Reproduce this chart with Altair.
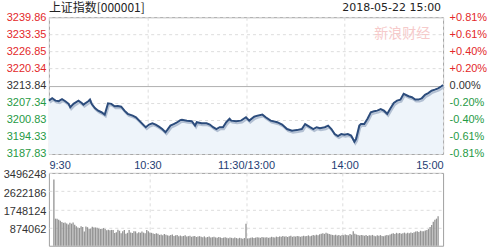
import altair as alt
import pandas as pd

# ---------------- data ----------------
title_text = "上证指数[000001]"
date_text = "2018-05-22 15:00"
watermark_text = "新浪财经"

# intraday price (minute offset from 9:30, trading minutes; 120 = 11:30/13:00)
price_minutes = [0, 2, 4, 6, 8, 10, 12, 13, 15, 18, 20, 21, 24, 25, 26, 28, 30, 32, 34, 35,
                 36, 38, 40, 42, 44, 46, 48, 51, 53, 55, 58, 59, 61, 63, 65, 67, 69, 71, 72, 74,
                 76, 78, 80, 81, 84, 87, 89, 90, 93, 96, 98, 100, 102, 104, 106, 108, 110, 111, 114, 117,
                 120, 122, 125, 127, 130, 132, 135, 139, 142, 145, 148, 151, 154, 156, 159, 161, 163, 165, 168, 170,
                 172, 174, 176, 178, 180, 182, 184, 186, 187, 189, 190, 192, 194, 196, 198, 200, 202, 204, 206, 208,
                 210, 212, 214, 216, 219, 221, 223, 225, 227, 229, 231, 233, 235, 237, 239, 240]
prices = [3208.1, 3209.0, 3208.1, 3207.9, 3208.7, 3207.9, 3206.9, 3205.6, 3206.9, 3208.1,
          3207.2, 3206.6, 3207.9, 3208.5, 3206.9, 3205.3, 3204.3, 3203.7, 3202.8, 3204.9,
          3207.1, 3206.9, 3206.0, 3206.1, 3205.8, 3204.3, 3203.1, 3202.4, 3201.8, 3200.5,
          3198.6, 3198.0, 3199.0, 3199.5, 3199.0, 3198.2, 3197.3, 3196.1, 3196.9, 3198.6,
          3199.2, 3199.8, 3200.7, 3200.8, 3200.5, 3200.3, 3198.6, 3199.9, 3199.5, 3199.5,
          3199.0, 3198.0, 3197.3, 3198.0, 3198.0, 3199.9, 3201.2, 3200.5, 3200.3, 3200.5,
          3201.8, 3200.5, 3202.0, 3202.4, 3202.8, 3201.8, 3200.5, 3199.9, 3199.0, 3197.3,
          3196.7, 3196.9, 3197.3, 3199.2, 3198.0, 3197.3, 3198.0, 3197.6, 3198.0, 3198.6,
          3197.3, 3195.4, 3194.6, 3195.4, 3195.1, 3195.4, 3194.8, 3192.5, 3193.5, 3198.6,
          3199.2, 3199.2, 3201.2, 3203.7, 3204.1, 3204.3, 3204.9, 3204.3, 3203.1, 3205.2,
          3207.2, 3208.1, 3208.5, 3210.7, 3209.8, 3209.4, 3208.5, 3208.5, 3209.0, 3210.3,
          3211.0, 3211.9, 3212.3, 3212.8, 3213.6, 3214.1]

# per-minute volume, minute 0 .. 240
volumes = [3180000,
           1300000, 1290000, 1250000, 1200000, 1140000, 1100000, 1110000, 1070000, 1020000, 1100000,
           1060000, 1120000, 1010000, 940000, 870000, 850000, 930000, 900000, 680000, 920000,
           890000, 820000, 830000, 910000, 880000, 880000, 860000, 830000, 800000, 820000,
           850000, 800000, 740000, 770000, 740000, 760000, 760000, 610000, 650000, 770000,
           720000, 600000, 700000, 760000, 580000, 620000, 750000, 640000, 610000, 700000,
           690000, 600000, 650000, 620000, 680000, 630000, 600000, 750000, 700000, 640000,
           620000, 590000, 560000, 600000, 580000, 520000, 540000, 500000, 560000, 530000,
           500000, 480000, 520000, 540000, 470000, 500000, 520000, 460000, 490000, 450000,
           470000, 500000, 440000, 460000, 480000, 430000, 450000, 470000, 420000, 440000,
           460000, 430000, 410000, 450000, 400000, 420000, 440000, 390000, 410000, 430000,
           400000, 380000, 420000, 400000, 370000, 390000, 410000, 380000, 360000, 400000,
           380000, 360000, 390000, 370000, 350000, 380000, 360000, 340000, 370000, 1060000,
           350000, 360000, 380000, 400000, 370000, 390000, 410000, 400000, 380000, 420000,
           400000, 390000, 410000, 380000, 400000, 430000, 410000, 390000, 440000, 420000,
           450000, 430000, 470000, 440000, 460000, 420000, 450000, 480000, 430000, 460000,
           440000, 470000, 450000, 430000, 460000, 480000, 450000, 470000, 500000, 460000,
           480000, 510000, 490000, 530000, 500000, 550000, 580000, 600000, 570000, 620000,
           590000, 560000, 540000, 520000, 500000, 530000, 490000, 510000, 480000, 520000,
           500000, 540000, 520000, 500000, 560000, 530000, 700000, 580000, 540000, 510000,
           490000, 520000, 500000, 480000, 510000, 470000, 500000, 490000, 520000, 480000,
           460000, 500000, 480000, 510000, 470000, 450000, 490000, 520000, 500000, 540000,
           580000, 600000, 560000, 620000, 590000, 610000, 570000, 600000, 630000, 590000,
           620000, 600000, 640000, 610000, 650000, 680000, 700000, 660000, 720000, 690000,
           700000, 730000, 760000, 800000, 900000, 1000000, 1150000, 1250000, 1300000, 1420000]
volume_minutes = list(range(len(volumes)))

price_ticks = [3187.83, 3194.33, 3200.83, 3207.34, 3213.84, 3220.34, 3226.85, 3233.35, 3239.86]
pct_labels = ["-0.81%", "-0.61%", "-0.40%", "-0.20%", "0.00%", "+0.20%", "+0.40%", "+0.61%", "+0.81%"]
prev_close = 3213.84
vol_ticks = [874062, 1748124, 2622186, 3496248]
time_ticks = [0, 60, 120, 180, 240]
time_labels = ["9:30", "10:30", "11:30/13:00", "14:00", "15:00"]

# ---------------- styling ----------------
FONT = "Liberation Sans"
RED, GREEN, DARK = "#e3282a", "#1f9a45", "#333333"
W, H1, H2 = 395, 137, 73

price_df = pd.DataFrame({"m": price_minutes, "p": prices})
vol_df = pd.DataFrame({"m": volume_minutes, "v": volumes})

xscale = alt.Scale(domain=[time_ticks[0], time_ticks[-1]], nice=False, zero=False)
yscale = alt.Scale(domain=[price_ticks[0], price_ticks[-1]], nice=False, zero=False)

time_expr = "{" + ",".join(f"'{t}':'{l}'" for t, l in zip(time_ticks, time_labels)) + "}[datum.value]"
pct_expr = ("[" + ",".join(f"'{l}'" for l in pct_labels) + "][indexof(["
            + ",".join(str(v) for v in price_ticks) + "], datum.value)]")

grid_x = dict(grid=True, gridColor="#dddddd", gridDash=[3, 3], gridWidth=1)
label_color = {"condition": [{"test": f"datum.value > {prev_close} + 0.01", "value": RED},
                             {"test": f"datum.value < {prev_close} - 0.01", "value": GREEN}],
               "value": DARK}

x_price = alt.X("m:Q", scale=xscale, axis=alt.Axis(
    values=time_ticks, labelExpr=time_expr, labelFlush=True, title=None, ticks=False,
    domain=False, labelPadding=6, labelFont=FONT, labelFontSize=11, labelColor="#1f3d73",
    **grid_x))

y_left = alt.Y("p:Q", scale=yscale, axis=alt.Axis(
    values=price_ticks, format=".2f", title=None, ticks=False, domain=False,
    labelPadding=3, labelFont=FONT, labelFontSize=11, labelColor=label_color,
    grid=True,
    gridColor={"condition": {"test": f"abs(datum.value - {prev_close}) < 0.01", "value": "#b0b0b0"},
               "value": "#dddddd"},
    gridDash={"condition": {"test": f"abs(datum.value - {prev_close}) < 0.01", "value": []},
              "value": [3, 3]}))

base = alt.Chart(price_df)

area = base.mark_area(color="#eef4fa").encode(x=x_price, y=y_left, y2=alt.datum(price_ticks[0]))
shadow = base.mark_line(color="#b3c0d3", strokeWidth=2, xOffset=1, yOffset=2).encode(
    x=x_price, y=y_left)
line = base.mark_line(color="#2c4c7c", strokeWidth=2).encode(x=x_price, y=y_left)

left_group = alt.layer(area, shadow, line)

right = base.mark_line(strokeOpacity=0).encode(
    x=x_price,
    y=alt.Y("p:Q", scale=yscale, axis=alt.Axis(
        orient="right", values=price_ticks, labelExpr=pct_expr, title=None, ticks=False,
        domain=False, grid=False, labelPadding=6, labelFont=FONT, labelFontSize=11,
        labelColor=label_color)))

title_mark = alt.Chart(pd.DataFrame({"t": [title_text]})).mark_text(
    align="left", baseline="alphabetic", font="Noto Sans CJK SC", fontSize=12, color="#222222"
).encode(x=alt.value(0), y=alt.value(-5), text="t:N")
date_mark = alt.Chart(pd.DataFrame({"t": [date_text]})).mark_text(
    align="right", baseline="alphabetic", font="DejaVu Sans", fontSize=11, color="#222222"
).encode(x=alt.value(W - 2), y=alt.value(-6), text="t:N")
wm_mark = alt.Chart(pd.DataFrame({"t": [watermark_text]})).mark_text(
    align="center", baseline="middle", font="Noto Sans CJK SC", fontSize=14, color="#f6caca"
).encode(x=alt.value(354), y=alt.value(17), text="t:N")

price_chart = alt.layer(left_group, wm_mark, title_mark, date_mark, right).resolve_scale(
    y="independent").properties(width=W, height=H1)

vol_chart = alt.Chart(vol_df).mark_bar(color="#939393", size=1.3).encode(
    x=alt.X("m:Q", scale=xscale, axis=alt.Axis(values=time_ticks[1:-1], labels=False, ticks=False,
                                               domain=False, title=None, **grid_x)),
    y=alt.Y("v:Q", scale=alt.Scale(domain=[0, vol_ticks[-1]], nice=False), axis=alt.Axis(
        values=vol_ticks, title=None, ticks=False, domain=False, labelPadding=3, labelOffset=2,
        labelFont=FONT, labelFontSize=11, labelColor=DARK, format="d",
        grid=True, gridColor="#dddddd", gridDash=[3, 3]))
).properties(width=W, height=H2)

chart = alt.vconcat(price_chart, vol_chart, spacing=19, bounds="flush").properties(
    padding={"left": 2, "top": 1, "right": 0, "bottom": 0}, background="white"
).configure_view(stroke="#a0a0a0", strokeWidth=1)

chart.save("out.html", embed_options={"renderer": "svg", "actions": False})
